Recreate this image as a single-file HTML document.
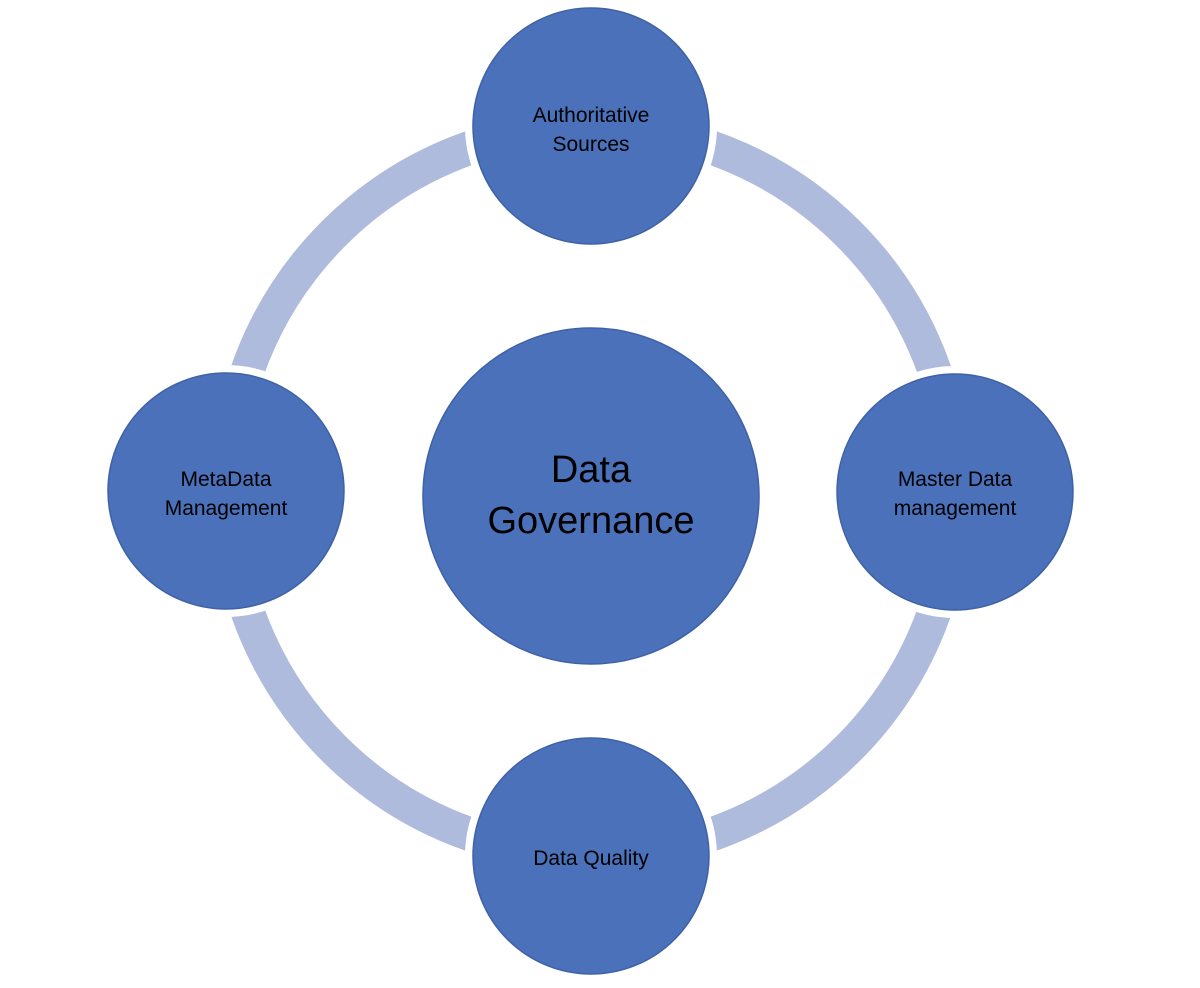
<!DOCTYPE html>
<html><head><style>
html,body{margin:0;padding:0;background:#fff;width:1200px;height:988px;overflow:hidden}
text{font-family:"Liberation Sans",sans-serif;fill:#000}
</style></head><body>
<svg width="1200" height="988" viewBox="0 0 1200 988">
<circle cx="591" cy="491" r="364" fill="none" stroke="#aebbdc" stroke-width="34"/>
<g fill="#4a71ba" stroke="#fff" stroke-width="8">
<circle cx="591" cy="126" r="122"/>
<circle cx="226" cy="491" r="122"/>
<circle cx="955" cy="492" r="122"/>
<circle cx="591" cy="856" r="122"/>
</g>
<g fill="#4a71ba" stroke="#3f62a6" stroke-width="1.5">
<circle cx="591" cy="126" r="118"/>
<circle cx="226" cy="491" r="118"/>
<circle cx="955" cy="492" r="118"/>
<circle cx="591" cy="856" r="118"/>
<circle cx="591" cy="496" r="168"/>
</g>
<g font-size="21" text-anchor="middle">
<text x="591" y="122">Authoritative</text>
<text x="591" y="151">Sources</text>
<text x="226" y="486">MetaData</text>
<text x="226" y="515">Management</text>
<text x="955" y="486">Master Data</text>
<text x="955" y="515">management</text>
<text x="591" y="865">Data Quality</text>
</g>
<g font-size="38" text-anchor="middle">
<text x="591" y="482">Data</text>
<text x="591" y="533">Governance</text>
</g>
</svg>
</body></html>
